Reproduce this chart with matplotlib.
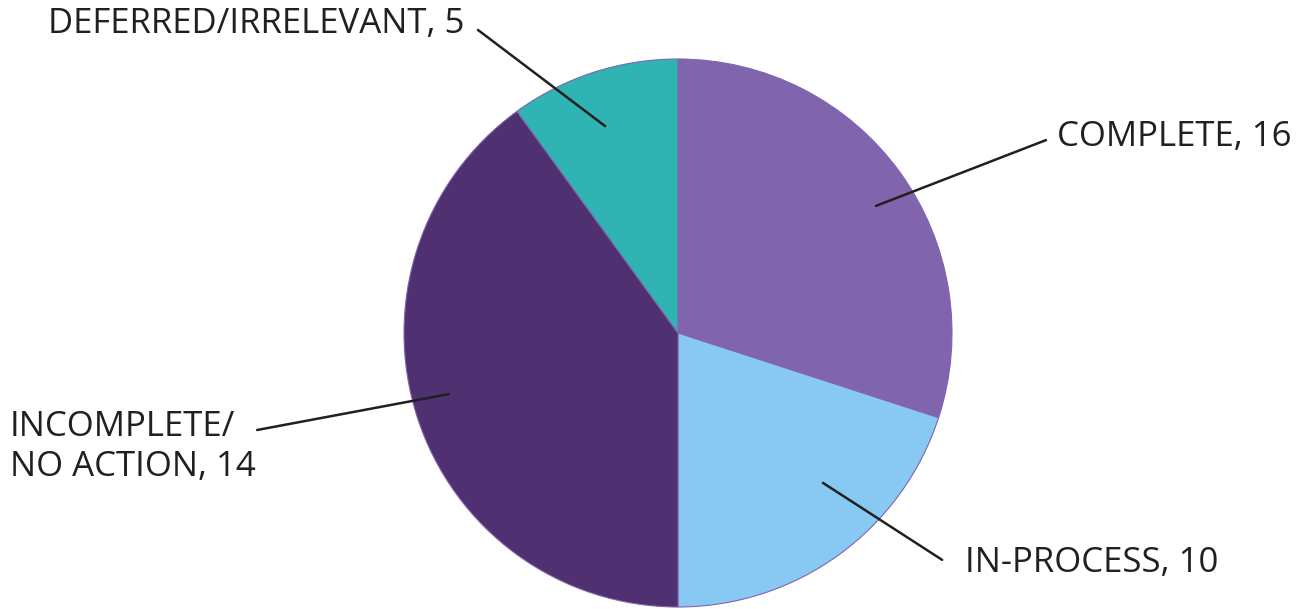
import matplotlib.pyplot as plt

labels = ['COMPLETE, 16', 'IN-PROCESS, 10', 'INCOMPLETE/\nNO ACTION, 14', 'DEFERRED/IRRELEVANT, 5']
counts = [16, 10, 14, 5]
# wedge sizes as drawn in the picture (percent of circle)
shares = [30, 20, 40, 10]
colors = ['#8064AE', '#87C9F2', '#4F3070', '#2FB3B3']

# leader line ends (pie radius = 1) and text anchors
inner_pts = [(0.723, 0.464), (0.529, -0.547), (-0.836, -0.223), (-0.266, 0.755)]
outer_pts = [(1.343, 0.704), (0.964, -0.828), (-1.536, -0.354), (-0.730, 1.106)]
text_pts = [(1.383, 0.715), (1.047, -0.839), (-2.438, -0.416), (-2.299, 1.128)]

plt.rcParams['font.family'] = ['Open Sans', 'DejaVu Sans']

fig = plt.figure(figsize=(13.02, 6.09), dpi=100)
ax = fig.add_axes([0, 0, 1, 1])
ax.pie(shares, colors=colors, startangle=90, counterclock=False, radius=1,
       wedgeprops=dict(edgecolor='#8064AE', linewidth=0.8))

for lab, p_in, p_out, p_txt in zip(labels, inner_pts, outer_pts, text_pts):
    ax.annotate('', xy=p_in, xytext=p_out,
                arrowprops=dict(arrowstyle='-', color='#231F20', lw=1.8,
                                shrinkA=0, shrinkB=0))
    ax.text(p_txt[0], p_txt[1], lab, ha='left', va='center', fontsize=25,
            color='#231F20', linespacing=1.2)

ax.set_xlim(-678 / 274, (1302 - 678) / 274)
ax.set_ylim(-(609 - 333) / 274, 333 / 274)
ax.set_aspect('equal')
ax.axis('off')

fig.savefig('out.png', dpi=100)
